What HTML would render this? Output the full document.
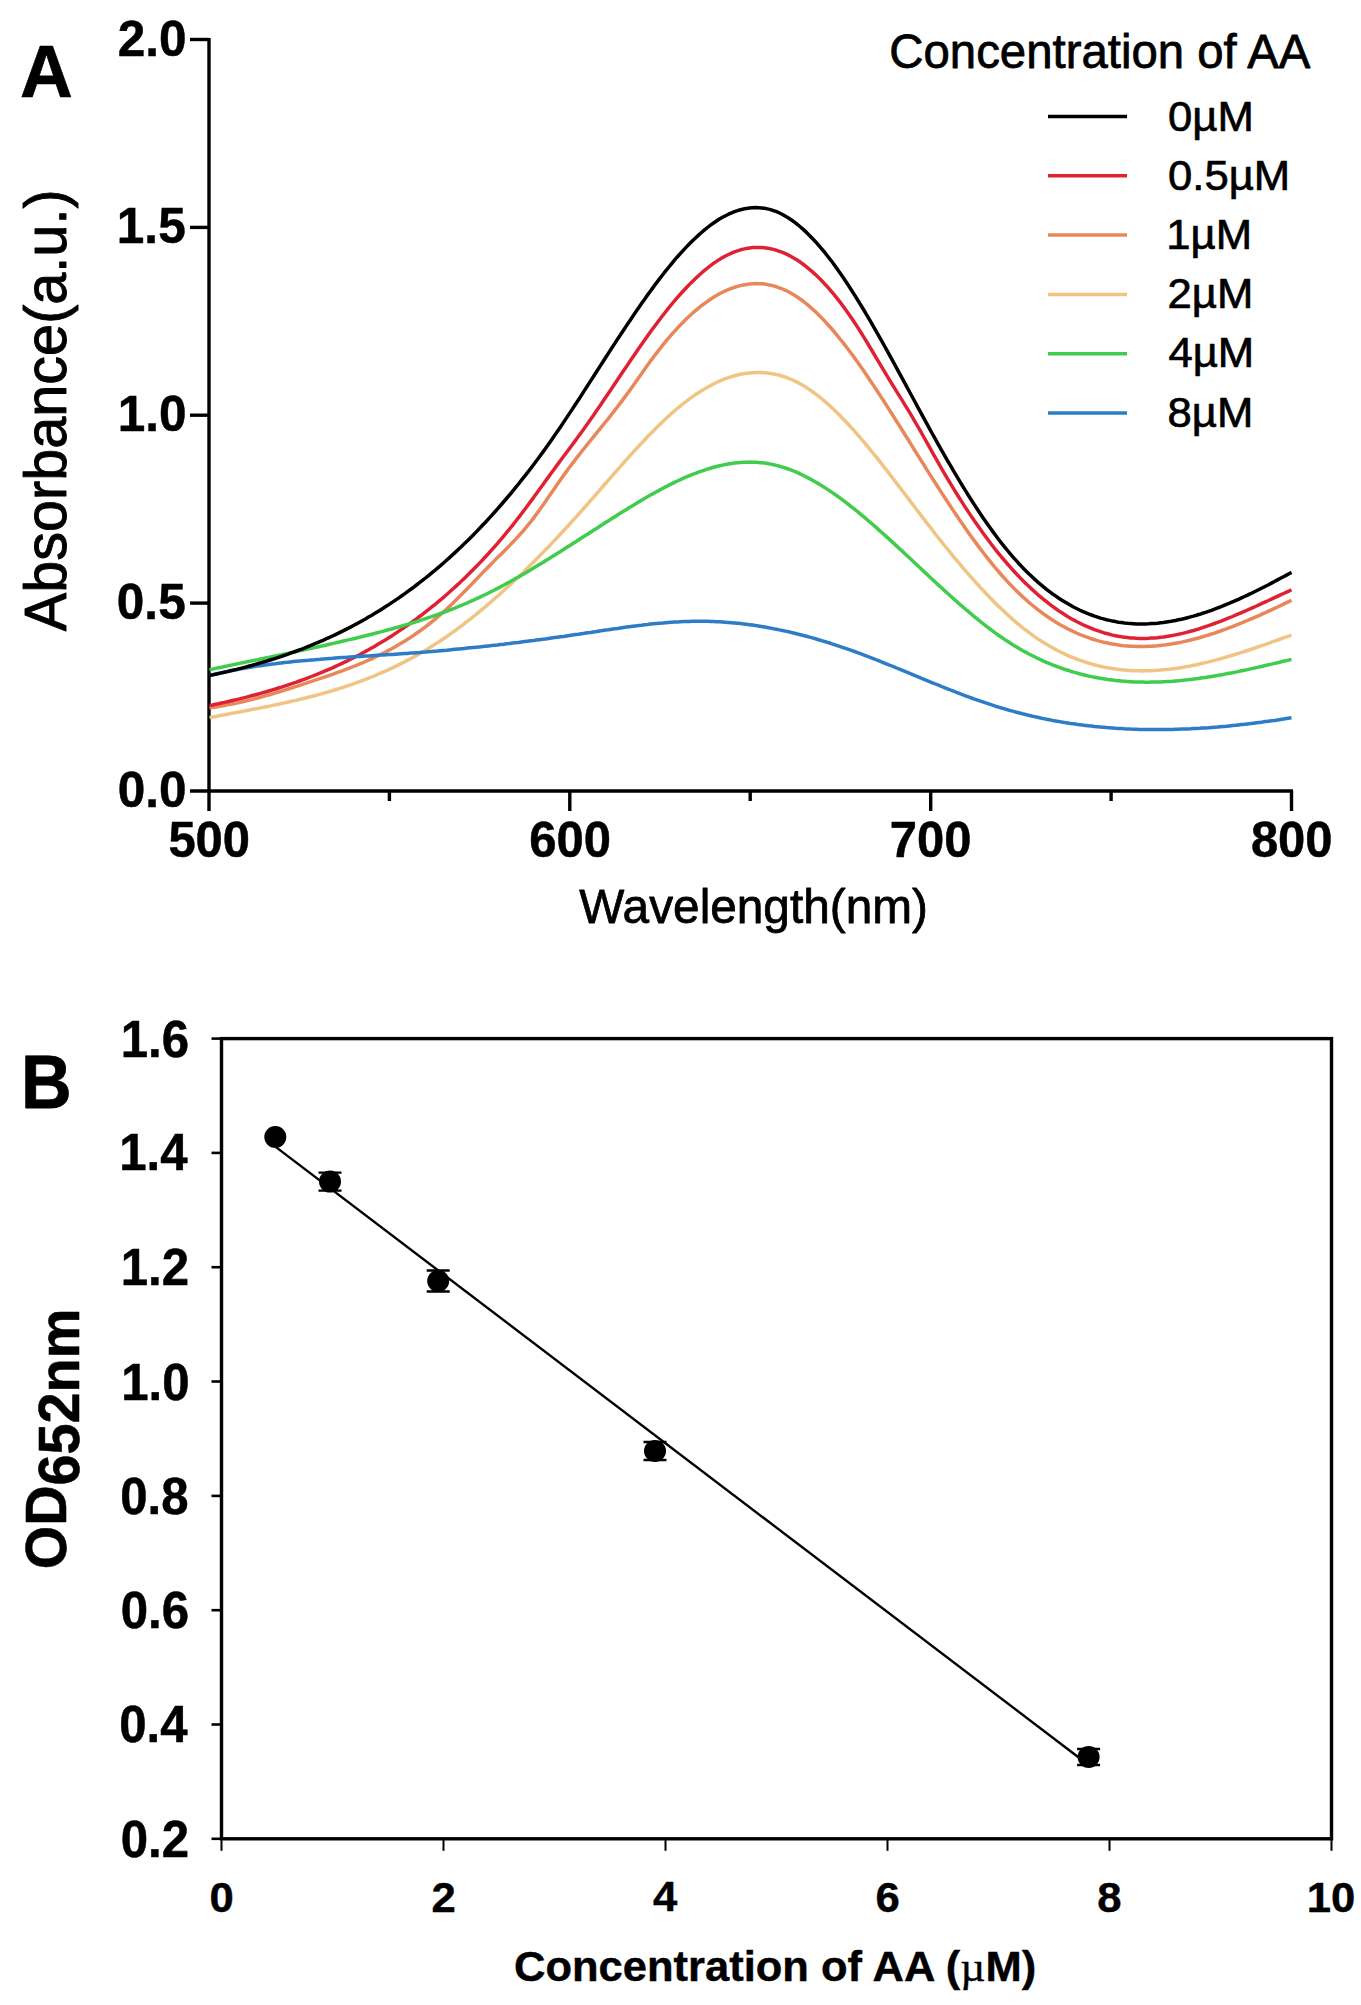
<!DOCTYPE html>
<html><head><meta charset="utf-8"><style>
html,body{margin:0;padding:0;background:#fff;}
svg{display:block;}
text{font-family:"Liberation Sans", sans-serif;fill:#000;}
.b{font-weight:bold;}
</style></head><body>
<svg width="1361" height="2005" viewBox="0 0 1361 2005">
<rect width="1361" height="2005" fill="#fff"/>

<path d="M209,38.0 V811" stroke="#000" stroke-width="3.4" fill="none"/>
<path d="M190,791 H1293.0" stroke="#000" stroke-width="3.4" fill="none"/>
<path d="M190,603.1 H209" stroke="#000" stroke-width="3.4"/>
<path d="M190,415.2 H209" stroke="#000" stroke-width="3.4"/>
<path d="M190,227.4 H209" stroke="#000" stroke-width="3.4"/>
<path d="M190,39.5 H209" stroke="#000" stroke-width="3.4"/>
<path d="M569.8,791 V811" stroke="#000" stroke-width="3.4"/>
<path d="M930.7,791 V811" stroke="#000" stroke-width="3.4"/>
<path d="M1291.5,791 V811" stroke="#000" stroke-width="3.4"/>
<path d="M389.4,791 V801" stroke="#000" stroke-width="3.4"/>
<path d="M750.2,791 V801" stroke="#000" stroke-width="3.4"/>
<path d="M1111.1,791 V801" stroke="#000" stroke-width="3.4"/>
<text transform="matrix(0.49545,0,0,0.50282,117.81,807.00)" font-size="100" style="font-family:'Liberation Sans', sans-serif;font-weight:bold;stroke:#000;stroke-width:1.0;stroke-linejoin:round" fill="#000">0.0</text>
<text transform="matrix(0.49545,0,0,0.50282,116.82,619.12)" font-size="100" style="font-family:'Liberation Sans', sans-serif;font-weight:bold;stroke:#000;stroke-width:1.0;stroke-linejoin:round" fill="#000">0.5</text>
<text transform="matrix(0.49545,0,0,0.50282,117.81,431.25)" font-size="100" style="font-family:'Liberation Sans', sans-serif;font-weight:bold;stroke:#000;stroke-width:1.0;stroke-linejoin:round" fill="#000">1.0</text>
<text transform="matrix(0.49545,0,0,0.50282,116.82,242.87)" font-size="100" style="font-family:'Liberation Sans', sans-serif;font-weight:bold;stroke:#000;stroke-width:1.0;stroke-linejoin:round" fill="#000">1.5</text>
<text transform="matrix(0.49545,0,0,0.50282,117.81,55.50)" font-size="100" style="font-family:'Liberation Sans', sans-serif;font-weight:bold;stroke:#000;stroke-width:1.0;stroke-linejoin:round" fill="#000">2.0</text>
<text transform="matrix(0.48938,0,0,0.50423,168.38,856.50)" font-size="100" style="font-family:'Liberation Sans', sans-serif;font-weight:bold;stroke:#000;stroke-width:1.0;stroke-linejoin:round" fill="#000">500</text>
<text transform="matrix(0.48938,0,0,0.50423,529.22,856.50)" font-size="100" style="font-family:'Liberation Sans', sans-serif;font-weight:bold;stroke:#000;stroke-width:1.0;stroke-linejoin:round" fill="#000">600</text>
<text transform="matrix(0.48938,0,0,0.50423,889.80,856.50)" font-size="100" style="font-family:'Liberation Sans', sans-serif;font-weight:bold;stroke:#000;stroke-width:1.0;stroke-linejoin:round" fill="#000">700</text>
<text transform="matrix(0.48938,0,0,0.50423,1250.88,856.50)" font-size="100" style="font-family:'Liberation Sans', sans-serif;font-weight:bold;stroke:#000;stroke-width:1.0;stroke-linejoin:round" fill="#000">800</text>
<text transform="matrix(0.47776,0,0,0.48646,579.30,922.50)" font-size="100" style="font-family:'Liberation Sans', sans-serif;font-weight:normal;stroke:#000;stroke-width:1.6;stroke-linejoin:round" fill="#000">Wavelength(nm)</text>
<text transform="matrix(0,-0.57612,0.58958,0,66.43,631.20)" font-size="100" style="font-family:'Liberation Sans', sans-serif;font-weight:normal;stroke:#000;stroke-width:1.6;stroke-linejoin:round">Absorbance(a.u.)</text>
<text transform="matrix(0.73088,0,0,0.73429,20.04,97.00)" font-size="100" style="font-family:'Liberation Sans', sans-serif;font-weight:bold;stroke:#000;stroke-width:1.0;stroke-linejoin:round" fill="#000">A</text>
<text transform="matrix(0.47359,0,0,0.47237,889.31,67.56)" font-size="100" style="font-family:'Liberation Sans', sans-serif;font-weight:normal;stroke:#000;stroke-width:1.6;stroke-linejoin:round" fill="#000">Concentration of AA</text>
<path d="M1048,116.5 H1127" stroke="#000000" stroke-width="3.5"/>
<text transform="matrix(0.43656,0,0,0.43118,1167.99,130.91)" font-size="100" style="font-family:'Liberation Sans', sans-serif;font-weight:normal;stroke:#000;stroke-width:1.6;stroke-linejoin:round" fill="#000">0µM</text>
<path d="M1048,175.8 H1127" stroke="#de2233" stroke-width="3.5"/>
<text transform="matrix(0.43656,0,0,0.43118,1167.99,190.03)" font-size="100" style="font-family:'Liberation Sans', sans-serif;font-weight:normal;stroke:#000;stroke-width:1.6;stroke-linejoin:round" fill="#000">0.5µM</text>
<path d="M1048,235.1 H1127" stroke="#e8875a" stroke-width="3.5"/>
<text transform="matrix(0.43656,0,0,0.43118,1166.24,248.72)" font-size="100" style="font-family:'Liberation Sans', sans-serif;font-weight:normal;stroke:#000;stroke-width:1.6;stroke-linejoin:round" fill="#000">1µM</text>
<path d="M1048,294.4 H1127" stroke="#f0c584" stroke-width="3.5"/>
<text transform="matrix(0.43656,0,0,0.43118,1167.55,308.27)" font-size="100" style="font-family:'Liberation Sans', sans-serif;font-weight:normal;stroke:#000;stroke-width:1.6;stroke-linejoin:round" fill="#000">2µM</text>
<path d="M1048,353.7 H1127" stroke="#40cc4c" stroke-width="3.5"/>
<text transform="matrix(0.43656,0,0,0.43118,1168.43,366.96)" font-size="100" style="font-family:'Liberation Sans', sans-serif;font-weight:normal;stroke:#000;stroke-width:1.6;stroke-linejoin:round" fill="#000">4µM</text>
<path d="M1048,413.0 H1127" stroke="#2d7cc8" stroke-width="3.5"/>
<text transform="matrix(0.43656,0,0,0.43118,1167.55,426.51)" font-size="100" style="font-family:'Liberation Sans', sans-serif;font-weight:normal;stroke:#000;stroke-width:1.6;stroke-linejoin:round" fill="#000">8µM</text>
<path d="M209.5,717.6 L212.5,717.1 L215.5,716.5 L218.5,715.9 L221.5,715.3 L224.5,714.8 L227.5,714.2 L230.5,713.6 L233.5,713.1 L236.5,712.5 L239.5,711.9 L242.5,711.4 L245.5,710.8 L248.5,710.2 L251.5,709.6 L254.5,709.1 L257.5,708.5 L260.5,707.9 L263.5,707.3 L266.5,706.7 L269.5,706.1 L272.5,705.4 L275.5,704.8 L278.5,704.2 L281.5,703.5 L284.5,702.9 L287.5,702.2 L290.5,701.5 L293.5,700.9 L296.5,700.2 L299.5,699.4 L302.5,698.7 L305.5,698.0 L308.5,697.2 L311.5,696.5 L314.5,695.7 L317.5,694.9 L320.5,694.1 L323.5,693.2 L326.5,692.4 L329.5,691.5 L332.5,690.6 L335.5,689.7 L338.5,688.8 L341.5,687.8 L344.5,686.8 L347.5,685.8 L350.5,684.8 L353.5,683.8 L356.5,682.7 L359.5,681.6 L362.5,680.5 L365.5,679.4 L368.5,678.2 L371.5,677.0 L374.5,675.8 L377.5,674.5 L380.5,673.2 L383.5,671.9 L386.5,670.6 L389.5,669.2 L392.5,667.8 L395.5,666.4 L398.5,664.9 L401.5,663.4 L404.5,661.9 L407.5,660.3 L410.5,658.7 L413.5,657.1 L416.5,655.4 L419.5,653.7 L422.5,652.0 L425.5,650.2 L428.5,648.4 L431.5,646.5 L434.5,644.6 L437.5,642.7 L440.5,640.7 L443.5,638.7 L446.5,636.7 L449.5,634.6 L452.5,632.4 L455.5,630.3 L458.5,628.1 L461.5,625.8 L464.5,623.5 L467.5,621.2 L470.5,618.9 L473.5,616.5 L476.5,614.1 L479.5,611.6 L482.5,609.1 L485.5,606.6 L488.5,604.0 L491.5,601.5 L494.5,598.8 L497.5,596.2 L500.5,593.5 L503.5,590.8 L506.5,588.0 L509.5,585.3 L512.5,582.5 L515.5,579.6 L518.5,576.8 L521.5,573.9 L524.5,571.0 L527.5,568.0 L530.5,565.1 L533.5,562.1 L536.5,559.0 L539.5,556.0 L542.5,552.9 L545.5,549.8 L548.5,546.7 L551.5,543.6 L554.5,540.4 L557.5,537.2 L560.5,534.0 L563.5,530.8 L566.5,527.5 L569.5,524.2 L572.5,520.9 L575.5,517.6 L578.5,514.3 L581.5,510.9 L584.5,507.5 L587.5,504.2 L590.5,500.7 L593.5,497.3 L596.5,493.9 L599.5,490.4 L602.5,487.0 L605.5,483.5 L608.5,480.1 L611.5,476.7 L614.5,473.2 L617.5,469.8 L620.5,466.4 L623.5,463.0 L626.5,459.6 L629.5,456.3 L632.5,452.9 L635.5,449.7 L638.5,446.4 L641.5,443.2 L644.5,440.0 L647.5,436.8 L650.5,433.7 L653.5,430.7 L656.5,427.7 L659.5,424.7 L662.5,421.8 L665.5,419.0 L668.5,416.2 L671.5,413.5 L674.5,410.9 L677.5,408.3 L680.5,405.9 L683.5,403.5 L686.5,401.1 L689.5,398.9 L692.5,396.7 L695.5,394.6 L698.5,392.7 L701.5,390.7 L704.5,388.9 L707.5,387.2 L710.5,385.6 L713.5,384.0 L716.5,382.5 L719.5,381.2 L722.5,379.9 L725.5,378.7 L728.5,377.7 L731.5,376.7 L734.5,375.8 L737.5,375.0 L740.5,374.3 L743.5,373.8 L746.5,373.3 L749.5,372.9 L752.5,372.7 L755.5,372.5 L758.5,372.5 L761.5,372.5 L764.5,372.7 L767.5,373.0 L770.5,373.4 L773.5,373.9 L776.5,374.6 L779.5,375.3 L782.5,376.2 L785.5,377.2 L788.5,378.3 L791.5,379.5 L794.5,380.9 L797.5,382.4 L800.5,384.0 L803.5,385.7 L806.5,387.6 L809.5,389.6 L812.5,391.7 L815.5,393.9 L818.5,396.2 L821.5,398.6 L824.5,401.1 L827.5,403.7 L830.5,406.5 L833.5,409.3 L836.5,412.2 L839.5,415.1 L842.5,418.2 L845.5,421.3 L848.5,424.5 L851.5,427.8 L854.5,431.2 L857.5,434.6 L860.5,438.0 L863.5,441.6 L866.5,445.2 L869.5,448.8 L872.5,452.5 L875.5,456.2 L878.5,459.9 L881.5,463.7 L884.5,467.6 L887.5,471.4 L890.5,475.3 L893.5,479.2 L896.5,483.1 L899.5,487.1 L902.5,491.0 L905.5,495.0 L908.5,498.9 L911.5,502.9 L914.5,506.8 L917.5,510.8 L920.5,514.7 L923.5,518.6 L926.5,522.6 L929.5,526.4 L932.5,530.3 L935.5,534.2 L938.5,538.0 L941.5,541.7 L944.5,545.5 L947.5,549.2 L950.5,552.9 L953.5,556.6 L956.5,560.2 L959.5,563.7 L962.5,567.3 L965.5,570.8 L968.5,574.2 L971.5,577.6 L974.5,581.0 L977.5,584.3 L980.5,587.6 L983.5,590.8 L986.5,594.0 L989.5,597.1 L992.5,600.2 L995.5,603.2 L998.5,606.2 L1001.5,609.1 L1004.5,611.9 L1007.5,614.7 L1010.5,617.4 L1013.5,620.1 L1016.5,622.6 L1019.5,625.1 L1022.5,627.6 L1025.5,629.9 L1028.5,632.2 L1031.5,634.4 L1034.5,636.6 L1037.5,638.6 L1040.5,640.6 L1043.5,642.5 L1046.5,644.3 L1049.5,646.1 L1052.5,647.8 L1055.5,649.5 L1058.5,651.0 L1061.5,652.5 L1064.5,653.9 L1067.5,655.3 L1070.5,656.6 L1073.5,657.9 L1076.5,659.0 L1079.5,660.2 L1082.5,661.2 L1085.5,662.2 L1088.5,663.1 L1091.5,664.0 L1094.5,664.8 L1097.5,665.6 L1100.5,666.3 L1103.5,667.0 L1106.5,667.6 L1109.5,668.1 L1112.5,668.6 L1115.5,669.0 L1118.5,669.4 L1121.5,669.8 L1124.5,670.1 L1127.5,670.3 L1130.5,670.5 L1133.5,670.7 L1136.5,670.8 L1139.5,670.8 L1142.5,670.9 L1145.5,670.8 L1148.5,670.8 L1151.5,670.7 L1154.5,670.5 L1157.5,670.3 L1160.5,670.1 L1163.5,669.8 L1166.5,669.5 L1169.5,669.2 L1172.5,668.8 L1175.5,668.4 L1178.5,668.0 L1181.5,667.5 L1184.5,667.0 L1187.5,666.4 L1190.5,665.9 L1193.5,665.3 L1196.5,664.7 L1199.5,664.0 L1202.5,663.3 L1205.5,662.6 L1208.5,661.9 L1211.5,661.1 L1214.5,660.4 L1217.5,659.6 L1220.5,658.7 L1223.5,657.9 L1226.5,657.0 L1229.5,656.1 L1232.5,655.2 L1235.5,654.3 L1238.5,653.4 L1241.5,652.4 L1244.5,651.5 L1247.5,650.5 L1250.5,649.5 L1253.5,648.5 L1256.5,647.5 L1259.5,646.4 L1262.5,645.4 L1265.5,644.4 L1268.5,643.3 L1271.5,642.2 L1274.5,641.2 L1277.5,640.1 L1280.5,639.0 L1283.5,637.9 L1286.5,636.9 L1289.5,635.8 L1291.5,635.1" stroke="#f0c584" stroke-width="3.5" fill="none" stroke-linejoin="round"/>
<path d="M209.5,707.8 L212.5,707.4 L215.5,707.0 L218.5,706.5 L221.5,706.0 L224.5,705.5 L227.5,704.9 L230.5,704.3 L233.5,703.7 L236.5,703.1 L239.5,702.5 L242.5,701.8 L245.5,701.1 L248.5,700.3 L251.5,699.6 L254.5,698.8 L257.5,698.0 L260.5,697.2 L263.5,696.4 L266.5,695.5 L269.5,694.7 L272.5,693.8 L275.5,692.9 L278.5,692.0 L281.5,691.1 L284.5,690.2 L287.5,689.2 L290.5,688.3 L293.5,687.3 L296.5,686.4 L299.5,685.4 L302.5,684.4 L305.5,683.4 L308.5,682.4 L311.5,681.4 L314.5,680.4 L317.5,679.4 L320.5,678.4 L323.5,677.4 L326.5,676.4 L329.5,675.3 L332.5,674.3 L335.5,673.2 L338.5,672.2 L341.5,671.1 L344.5,669.9 L347.5,668.8 L350.5,667.7 L353.5,666.5 L356.5,665.3 L359.5,664.0 L362.5,662.8 L365.5,661.5 L368.5,660.2 L371.5,658.8 L374.5,657.4 L377.5,656.0 L380.5,654.5 L383.5,653.0 L386.5,651.5 L389.5,649.9 L392.5,648.2 L395.5,646.6 L398.5,644.8 L401.5,643.0 L404.5,641.2 L407.5,639.3 L410.5,637.4 L413.5,635.4 L416.5,633.3 L419.5,631.2 L422.5,629.0 L425.5,626.8 L428.5,624.5 L431.5,622.1 L434.5,619.6 L437.5,617.1 L440.5,614.5 L443.5,611.9 L446.5,609.2 L449.5,606.3 L452.5,603.5 L455.5,600.6 L458.5,597.6 L461.5,594.6 L464.5,591.5 L467.5,588.5 L470.5,585.4 L473.5,582.2 L476.5,579.1 L479.5,576.0 L482.5,572.9 L485.5,569.8 L488.5,566.7 L491.5,563.7 L494.5,560.6 L497.5,557.6 L500.5,554.7 L503.5,551.7 L506.5,548.7 L509.5,545.6 L512.5,542.5 L515.5,539.4 L518.5,536.1 L521.5,532.8 L524.5,529.3 L527.5,525.7 L530.5,522.0 L533.5,518.1 L536.5,514.1 L539.5,509.9 L542.5,505.7 L545.5,501.4 L548.5,497.1 L551.5,492.7 L554.5,488.4 L557.5,484.0 L560.5,479.7 L563.5,475.5 L566.5,471.4 L569.5,467.3 L572.5,463.4 L575.5,459.4 L578.5,455.6 L581.5,451.7 L584.5,448.0 L587.5,444.2 L590.5,440.5 L593.5,436.8 L596.5,433.1 L599.5,429.4 L602.5,425.7 L605.5,422.0 L608.5,418.3 L611.5,414.5 L614.5,410.7 L617.5,406.8 L620.5,402.9 L623.5,398.9 L626.5,394.8 L629.5,390.7 L632.5,386.5 L635.5,382.2 L638.5,378.0 L641.5,373.7 L644.5,369.5 L647.5,365.3 L650.5,361.1 L653.5,357.0 L656.5,353.1 L659.5,349.2 L662.5,345.4 L665.5,341.7 L668.5,338.2 L671.5,334.7 L674.5,331.3 L677.5,328.0 L680.5,324.9 L683.5,321.8 L686.5,318.8 L689.5,316.0 L692.5,313.3 L695.5,310.6 L698.5,308.1 L701.5,305.7 L704.5,303.5 L707.5,301.3 L710.5,299.2 L713.5,297.3 L716.5,295.5 L719.5,293.8 L722.5,292.3 L725.5,290.8 L728.5,289.5 L731.5,288.4 L734.5,287.3 L737.5,286.4 L740.5,285.6 L743.5,284.9 L746.5,284.4 L749.5,284.0 L752.5,283.8 L755.5,283.6 L758.5,283.7 L761.5,283.8 L764.5,284.1 L767.5,284.6 L770.5,285.2 L773.5,285.9 L776.5,286.8 L779.5,287.8 L782.5,289.0 L785.5,290.3 L788.5,291.8 L791.5,293.5 L794.5,295.3 L797.5,297.2 L800.5,299.3 L803.5,301.5 L806.5,303.9 L809.5,306.4 L812.5,309.1 L815.5,311.8 L818.5,314.8 L821.5,317.8 L824.5,320.9 L827.5,324.2 L830.5,327.5 L833.5,331.0 L836.5,334.6 L839.5,338.3 L842.5,342.0 L845.5,345.9 L848.5,349.8 L851.5,353.8 L854.5,357.9 L857.5,362.1 L860.5,366.3 L863.5,370.6 L866.5,375.0 L869.5,379.4 L872.5,383.9 L875.5,388.4 L878.5,393.0 L881.5,397.6 L884.5,402.3 L887.5,406.9 L890.5,411.7 L893.5,416.4 L896.5,421.2 L899.5,425.9 L902.5,430.7 L905.5,435.5 L908.5,440.3 L911.5,445.2 L914.5,450.0 L917.5,454.8 L920.5,459.6 L923.5,464.3 L926.5,469.1 L929.5,473.9 L932.5,478.6 L935.5,483.3 L938.5,488.0 L941.5,492.6 L944.5,497.2 L947.5,501.8 L950.5,506.4 L953.5,510.9 L956.5,515.3 L959.5,519.8 L962.5,524.1 L965.5,528.4 L968.5,532.7 L971.5,536.9 L974.5,541.0 L977.5,545.1 L980.5,549.1 L983.5,553.0 L986.5,556.9 L989.5,560.7 L992.5,564.4 L995.5,568.0 L998.5,571.5 L1001.5,575.0 L1004.5,578.4 L1007.5,581.6 L1010.5,584.8 L1013.5,587.9 L1016.5,590.9 L1019.5,593.8 L1022.5,596.6 L1025.5,599.3 L1028.5,602.0 L1031.5,604.5 L1034.5,607.0 L1037.5,609.3 L1040.5,611.6 L1043.5,613.9 L1046.5,616.0 L1049.5,618.0 L1052.5,620.0 L1055.5,621.9 L1058.5,623.7 L1061.5,625.4 L1064.5,627.1 L1067.5,628.7 L1070.5,630.2 L1073.5,631.6 L1076.5,633.0 L1079.5,634.3 L1082.5,635.5 L1085.5,636.7 L1088.5,637.7 L1091.5,638.8 L1094.5,639.7 L1097.5,640.6 L1100.5,641.4 L1103.5,642.2 L1106.5,642.8 L1109.5,643.5 L1112.5,644.0 L1115.5,644.5 L1118.5,645.0 L1121.5,645.4 L1124.5,645.7 L1127.5,645.9 L1130.5,646.2 L1133.5,646.3 L1136.5,646.4 L1139.5,646.5 L1142.5,646.5 L1145.5,646.4 L1148.5,646.3 L1151.5,646.2 L1154.5,645.9 L1157.5,645.7 L1160.5,645.4 L1163.5,645.1 L1166.5,644.7 L1169.5,644.2 L1172.5,643.8 L1175.5,643.2 L1178.5,642.7 L1181.5,642.1 L1184.5,641.4 L1187.5,640.8 L1190.5,640.0 L1193.5,639.3 L1196.5,638.5 L1199.5,637.7 L1202.5,636.8 L1205.5,635.9 L1208.5,635.0 L1211.5,634.0 L1214.5,633.1 L1217.5,632.0 L1220.5,631.0 L1223.5,629.9 L1226.5,628.8 L1229.5,627.7 L1232.5,626.6 L1235.5,625.4 L1238.5,624.2 L1241.5,623.0 L1244.5,621.7 L1247.5,620.5 L1250.5,619.2 L1253.5,617.9 L1256.5,616.6 L1259.5,615.3 L1262.5,613.9 L1265.5,612.6 L1268.5,611.2 L1271.5,609.8 L1274.5,608.4 L1277.5,607.0 L1280.5,605.6 L1283.5,604.1 L1286.5,602.7 L1289.5,601.3 L1291.5,600.3" stroke="#e8875a" stroke-width="3.5" fill="none" stroke-linejoin="round"/>
<path d="M209.5,705.6 L212.5,705.0 L215.5,704.3 L218.5,703.7 L221.5,703.0 L224.5,702.4 L227.5,701.7 L230.5,701.0 L233.5,700.3 L236.5,699.6 L239.5,698.9 L242.5,698.1 L245.5,697.4 L248.5,696.6 L251.5,695.8 L254.5,695.0 L257.5,694.2 L260.5,693.4 L263.5,692.5 L266.5,691.7 L269.5,690.8 L272.5,689.9 L275.5,689.0 L278.5,688.0 L281.5,687.1 L284.5,686.1 L287.5,685.1 L290.5,684.1 L293.5,683.1 L296.5,682.1 L299.5,681.0 L302.5,679.9 L305.5,678.8 L308.5,677.7 L311.5,676.5 L314.5,675.3 L317.5,674.1 L320.5,672.9 L323.5,671.7 L326.5,670.4 L329.5,669.1 L332.5,667.8 L335.5,666.4 L338.5,665.0 L341.5,663.6 L344.5,662.2 L347.5,660.8 L350.5,659.3 L353.5,657.8 L356.5,656.2 L359.5,654.7 L362.5,653.1 L365.5,651.4 L368.5,649.8 L371.5,648.1 L374.5,646.4 L377.5,644.6 L380.5,642.8 L383.5,641.0 L386.5,639.2 L389.5,637.3 L392.5,635.4 L395.5,633.4 L398.5,631.4 L401.5,629.4 L404.5,627.3 L407.5,625.3 L410.5,623.1 L413.5,621.0 L416.5,618.8 L419.5,616.5 L422.5,614.3 L425.5,611.9 L428.5,609.6 L431.5,607.2 L434.5,604.8 L437.5,602.3 L440.5,599.8 L443.5,597.3 L446.5,594.7 L449.5,592.0 L452.5,589.3 L455.5,586.6 L458.5,583.9 L461.5,581.0 L464.5,578.2 L467.5,575.3 L470.5,572.3 L473.5,569.3 L476.5,566.2 L479.5,563.1 L482.5,560.0 L485.5,556.7 L488.5,553.5 L491.5,550.1 L494.5,546.8 L497.5,543.3 L500.5,539.8 L503.5,536.3 L506.5,532.7 L509.5,529.0 L512.5,525.3 L515.5,521.5 L518.5,517.6 L521.5,513.7 L524.5,509.7 L527.5,505.7 L530.5,501.6 L533.5,497.6 L536.5,493.4 L539.5,489.3 L542.5,485.2 L545.5,481.0 L548.5,476.9 L551.5,472.8 L554.5,468.7 L557.5,464.6 L560.5,460.5 L563.5,456.5 L566.5,452.5 L569.5,448.5 L572.5,444.5 L575.5,440.4 L578.5,436.3 L581.5,432.2 L584.5,428.0 L587.5,423.8 L590.5,419.5 L593.5,415.2 L596.5,410.8 L599.5,406.5 L602.5,402.0 L605.5,397.6 L608.5,393.2 L611.5,388.7 L614.5,384.2 L617.5,379.8 L620.5,375.3 L623.5,370.8 L626.5,366.4 L629.5,362.0 L632.5,357.5 L635.5,353.2 L638.5,348.8 L641.5,344.5 L644.5,340.2 L647.5,336.0 L650.5,331.8 L653.5,327.7 L656.5,323.7 L659.5,319.7 L662.5,315.8 L665.5,312.0 L668.5,308.2 L671.5,304.5 L674.5,300.9 L677.5,297.4 L680.5,294.0 L683.5,290.7 L686.5,287.5 L689.5,284.4 L692.5,281.4 L695.5,278.5 L698.5,275.7 L701.5,273.0 L704.5,270.4 L707.5,268.0 L710.5,265.6 L713.5,263.4 L716.5,261.4 L719.5,259.4 L722.5,257.6 L725.5,256.0 L728.5,254.5 L731.5,253.1 L734.5,251.8 L737.5,250.8 L740.5,249.8 L743.5,249.1 L746.5,248.4 L749.5,247.9 L752.5,247.6 L755.5,247.4 L758.5,247.4 L761.5,247.5 L764.5,247.8 L767.5,248.2 L770.5,248.7 L773.5,249.4 L776.5,250.3 L779.5,251.3 L782.5,252.4 L785.5,253.7 L788.5,255.1 L791.5,256.7 L794.5,258.5 L797.5,260.3 L800.5,262.3 L803.5,264.5 L806.5,266.8 L809.5,269.3 L812.5,271.9 L815.5,274.6 L818.5,277.5 L821.5,280.5 L824.5,283.7 L827.5,286.9 L830.5,290.4 L833.5,293.9 L836.5,297.6 L839.5,301.4 L842.5,305.4 L845.5,309.5 L848.5,313.7 L851.5,318.0 L854.5,322.5 L857.5,327.1 L860.5,331.8 L863.5,336.6 L866.5,341.5 L869.5,346.5 L872.5,351.5 L875.5,356.6 L878.5,361.6 L881.5,366.7 L884.5,371.7 L887.5,376.7 L890.5,381.6 L893.5,386.4 L896.5,391.3 L899.5,396.1 L902.5,400.9 L905.5,405.8 L908.5,410.7 L911.5,415.7 L914.5,420.8 L917.5,426.0 L920.5,431.2 L923.5,436.5 L926.5,441.8 L929.5,447.2 L932.5,452.6 L935.5,457.9 L938.5,463.2 L941.5,468.5 L944.5,473.6 L947.5,478.7 L950.5,483.7 L953.5,488.6 L956.5,493.5 L959.5,498.2 L962.5,502.9 L965.5,507.6 L968.5,512.1 L971.5,516.6 L974.5,521.0 L977.5,525.3 L980.5,529.5 L983.5,533.7 L986.5,537.8 L989.5,541.8 L992.5,545.7 L995.5,549.6 L998.5,553.3 L1001.5,557.0 L1004.5,560.5 L1007.5,564.0 L1010.5,567.4 L1013.5,570.7 L1016.5,574.0 L1019.5,577.1 L1022.5,580.2 L1025.5,583.2 L1028.5,586.1 L1031.5,588.9 L1034.5,591.6 L1037.5,594.3 L1040.5,596.8 L1043.5,599.3 L1046.5,601.7 L1049.5,604.1 L1052.5,606.3 L1055.5,608.5 L1058.5,610.6 L1061.5,612.6 L1064.5,614.5 L1067.5,616.4 L1070.5,618.2 L1073.5,619.9 L1076.5,621.5 L1079.5,623.0 L1082.5,624.5 L1085.5,625.9 L1088.5,627.2 L1091.5,628.4 L1094.5,629.6 L1097.5,630.7 L1100.5,631.7 L1103.5,632.7 L1106.5,633.5 L1109.5,634.3 L1112.5,635.1 L1115.5,635.7 L1118.5,636.3 L1121.5,636.8 L1124.5,637.2 L1127.5,637.6 L1130.5,637.9 L1133.5,638.1 L1136.5,638.3 L1139.5,638.4 L1142.5,638.4 L1145.5,638.4 L1148.5,638.3 L1151.5,638.1 L1154.5,637.9 L1157.5,637.7 L1160.5,637.3 L1163.5,637.0 L1166.5,636.5 L1169.5,636.0 L1172.5,635.5 L1175.5,634.9 L1178.5,634.3 L1181.5,633.6 L1184.5,632.9 L1187.5,632.1 L1190.5,631.3 L1193.5,630.5 L1196.5,629.6 L1199.5,628.7 L1202.5,627.7 L1205.5,626.7 L1208.5,625.7 L1211.5,624.6 L1214.5,623.5 L1217.5,622.4 L1220.5,621.3 L1223.5,620.1 L1226.5,618.9 L1229.5,617.7 L1232.5,616.5 L1235.5,615.2 L1238.5,613.9 L1241.5,612.6 L1244.5,611.3 L1247.5,610.0 L1250.5,608.7 L1253.5,607.3 L1256.5,606.0 L1259.5,604.6 L1262.5,603.2 L1265.5,601.8 L1268.5,600.5 L1271.5,599.1 L1274.5,597.7 L1277.5,596.3 L1280.5,594.9 L1283.5,593.5 L1286.5,592.1 L1289.5,590.8 L1291.5,589.8" stroke="#de2233" stroke-width="3.5" fill="none" stroke-linejoin="round"/>
<path d="M209.5,669.7 L212.5,669.1 L215.5,668.4 L218.5,667.8 L221.5,667.2 L224.5,666.5 L227.5,665.9 L230.5,665.3 L233.5,664.6 L236.5,664.0 L239.5,663.4 L242.5,662.8 L245.5,662.1 L248.5,661.5 L251.5,660.9 L254.5,660.3 L257.5,659.7 L260.5,659.0 L263.5,658.4 L266.5,657.8 L269.5,657.2 L272.5,656.5 L275.5,655.9 L278.5,655.3 L281.5,654.7 L284.5,654.0 L287.5,653.4 L290.5,652.8 L293.5,652.2 L296.5,651.5 L299.5,650.9 L302.5,650.2 L305.5,649.6 L308.5,648.9 L311.5,648.3 L314.5,647.6 L317.5,647.0 L320.5,646.3 L323.5,645.7 L326.5,645.0 L329.5,644.3 L332.5,643.6 L335.5,642.9 L338.5,642.2 L341.5,641.5 L344.5,640.8 L347.5,640.1 L350.5,639.4 L353.5,638.7 L356.5,638.0 L359.5,637.2 L362.5,636.5 L365.5,635.8 L368.5,635.0 L371.5,634.2 L374.5,633.5 L377.5,632.7 L380.5,631.9 L383.5,631.1 L386.5,630.3 L389.5,629.5 L392.5,628.7 L395.5,627.8 L398.5,627.0 L401.5,626.1 L404.5,625.2 L407.5,624.4 L410.5,623.5 L413.5,622.5 L416.5,621.6 L419.5,620.7 L422.5,619.7 L425.5,618.7 L428.5,617.7 L431.5,616.7 L434.5,615.6 L437.5,614.6 L440.5,613.5 L443.5,612.4 L446.5,611.3 L449.5,610.1 L452.5,609.0 L455.5,607.8 L458.5,606.5 L461.5,605.3 L464.5,604.0 L467.5,602.8 L470.5,601.4 L473.5,600.1 L476.5,598.7 L479.5,597.3 L482.5,595.9 L485.5,594.5 L488.5,593.0 L491.5,591.5 L494.5,590.0 L497.5,588.4 L500.5,586.9 L503.5,585.3 L506.5,583.6 L509.5,582.0 L512.5,580.3 L515.5,578.6 L518.5,576.9 L521.5,575.2 L524.5,573.5 L527.5,571.7 L530.5,569.9 L533.5,568.1 L536.5,566.3 L539.5,564.5 L542.5,562.7 L545.5,560.8 L548.5,559.0 L551.5,557.1 L554.5,555.2 L557.5,553.3 L560.5,551.4 L563.5,549.5 L566.5,547.6 L569.5,545.7 L572.5,543.8 L575.5,541.9 L578.5,540.0 L581.5,538.0 L584.5,536.1 L587.5,534.2 L590.5,532.2 L593.5,530.3 L596.5,528.4 L599.5,526.5 L602.5,524.5 L605.5,522.6 L608.5,520.7 L611.5,518.8 L614.5,516.9 L617.5,515.0 L620.5,513.1 L623.5,511.3 L626.5,509.4 L629.5,507.5 L632.5,505.7 L635.5,503.9 L638.5,502.1 L641.5,500.3 L644.5,498.5 L647.5,496.8 L650.5,495.1 L653.5,493.4 L656.5,491.7 L659.5,490.1 L662.5,488.5 L665.5,486.9 L668.5,485.4 L671.5,483.9 L674.5,482.4 L677.5,481.0 L680.5,479.6 L683.5,478.2 L686.5,476.9 L689.5,475.6 L692.5,474.4 L695.5,473.3 L698.5,472.1 L701.5,471.1 L704.5,470.1 L707.5,469.1 L710.5,468.2 L713.5,467.3 L716.5,466.5 L719.5,465.8 L722.5,465.1 L725.5,464.5 L728.5,464.0 L731.5,463.5 L734.5,463.1 L737.5,462.7 L740.5,462.5 L743.5,462.3 L746.5,462.2 L749.5,462.1 L752.5,462.2 L755.5,462.3 L758.5,462.5 L761.5,462.7 L764.5,463.1 L767.5,463.5 L770.5,464.1 L773.5,464.7 L776.5,465.4 L779.5,466.2 L782.5,467.1 L785.5,468.0 L788.5,469.1 L791.5,470.2 L794.5,471.4 L797.5,472.7 L800.5,474.1 L803.5,475.5 L806.5,477.0 L809.5,478.6 L812.5,480.2 L815.5,481.9 L818.5,483.7 L821.5,485.5 L824.5,487.4 L827.5,489.4 L830.5,491.4 L833.5,493.4 L836.5,495.5 L839.5,497.7 L842.5,499.9 L845.5,502.2 L848.5,504.5 L851.5,506.8 L854.5,509.2 L857.5,511.6 L860.5,514.1 L863.5,516.6 L866.5,519.1 L869.5,521.7 L872.5,524.3 L875.5,526.9 L878.5,529.6 L881.5,532.2 L884.5,534.9 L887.5,537.6 L890.5,540.4 L893.5,543.1 L896.5,545.9 L899.5,548.7 L902.5,551.4 L905.5,554.2 L908.5,557.0 L911.5,559.8 L914.5,562.7 L917.5,565.5 L920.5,568.3 L923.5,571.1 L926.5,573.9 L929.5,576.7 L932.5,579.5 L935.5,582.3 L938.5,585.1 L941.5,587.8 L944.5,590.6 L947.5,593.3 L950.5,596.0 L953.5,598.7 L956.5,601.4 L959.5,604.0 L962.5,606.6 L965.5,609.2 L968.5,611.7 L971.5,614.3 L974.5,616.8 L977.5,619.2 L980.5,621.6 L983.5,624.0 L986.5,626.3 L989.5,628.6 L992.5,630.9 L995.5,633.1 L998.5,635.2 L1001.5,637.3 L1004.5,639.4 L1007.5,641.3 L1010.5,643.3 L1013.5,645.2 L1016.5,647.0 L1019.5,648.8 L1022.5,650.5 L1025.5,652.1 L1028.5,653.8 L1031.5,655.3 L1034.5,656.8 L1037.5,658.3 L1040.5,659.7 L1043.5,661.1 L1046.5,662.4 L1049.5,663.6 L1052.5,664.9 L1055.5,666.0 L1058.5,667.1 L1061.5,668.2 L1064.5,669.3 L1067.5,670.2 L1070.5,671.2 L1073.5,672.1 L1076.5,672.9 L1079.5,673.8 L1082.5,674.5 L1085.5,675.3 L1088.5,676.0 L1091.5,676.6 L1094.5,677.2 L1097.5,677.8 L1100.5,678.3 L1103.5,678.8 L1106.5,679.3 L1109.5,679.7 L1112.5,680.1 L1115.5,680.5 L1118.5,680.8 L1121.5,681.1 L1124.5,681.3 L1127.5,681.5 L1130.5,681.7 L1133.5,681.9 L1136.5,682.0 L1139.5,682.1 L1142.5,682.1 L1145.5,682.2 L1148.5,682.2 L1151.5,682.1 L1154.5,682.1 L1157.5,682.0 L1160.5,681.9 L1163.5,681.7 L1166.5,681.6 L1169.5,681.4 L1172.5,681.2 L1175.5,680.9 L1178.5,680.7 L1181.5,680.4 L1184.5,680.1 L1187.5,679.8 L1190.5,679.4 L1193.5,679.1 L1196.5,678.7 L1199.5,678.3 L1202.5,677.8 L1205.5,677.4 L1208.5,676.9 L1211.5,676.4 L1214.5,675.9 L1217.5,675.4 L1220.5,674.9 L1223.5,674.4 L1226.5,673.8 L1229.5,673.2 L1232.5,672.7 L1235.5,672.1 L1238.5,671.5 L1241.5,670.8 L1244.5,670.2 L1247.5,669.6 L1250.5,668.9 L1253.5,668.3 L1256.5,667.6 L1259.5,666.9 L1262.5,666.2 L1265.5,665.5 L1268.5,664.8 L1271.5,664.1 L1274.5,663.4 L1277.5,662.7 L1280.5,662.0 L1283.5,661.3 L1286.5,660.6 L1289.5,659.9 L1291.5,659.4" stroke="#40cc4c" stroke-width="3.5" fill="none" stroke-linejoin="round"/>
<path d="M209.5,675.4 L212.5,674.7 L215.5,674.0 L218.5,673.3 L221.5,672.7 L224.5,672.0 L227.5,671.4 L230.5,670.8 L233.5,670.2 L236.5,669.7 L239.5,669.1 L242.5,668.6 L245.5,668.1 L248.5,667.6 L251.5,667.1 L254.5,666.6 L257.5,666.1 L260.5,665.7 L263.5,665.3 L266.5,664.8 L269.5,664.4 L272.5,664.0 L275.5,663.7 L278.5,663.3 L281.5,662.9 L284.5,662.6 L287.5,662.3 L290.5,661.9 L293.5,661.6 L296.5,661.3 L299.5,661.0 L302.5,660.7 L305.5,660.4 L308.5,660.2 L311.5,659.9 L314.5,659.7 L317.5,659.4 L320.5,659.2 L323.5,658.9 L326.5,658.7 L329.5,658.5 L332.5,658.3 L335.5,658.0 L338.5,657.8 L341.5,657.6 L344.5,657.4 L347.5,657.2 L350.5,657.0 L353.5,656.8 L356.5,656.6 L359.5,656.5 L362.5,656.3 L365.5,656.1 L368.5,655.9 L371.5,655.7 L374.5,655.5 L377.5,655.3 L380.5,655.1 L383.5,655.0 L386.5,654.8 L389.5,654.6 L392.5,654.4 L395.5,654.2 L398.5,654.0 L401.5,653.8 L404.5,653.6 L407.5,653.4 L410.5,653.1 L413.5,652.9 L416.5,652.7 L419.5,652.5 L422.5,652.2 L425.5,652.0 L428.5,651.7 L431.5,651.5 L434.5,651.2 L437.5,651.0 L440.5,650.7 L443.5,650.4 L446.5,650.2 L449.5,649.9 L452.5,649.6 L455.5,649.3 L458.5,649.0 L461.5,648.7 L464.5,648.4 L467.5,648.1 L470.5,647.8 L473.5,647.5 L476.5,647.2 L479.5,646.9 L482.5,646.6 L485.5,646.2 L488.5,645.9 L491.5,645.6 L494.5,645.2 L497.5,644.9 L500.5,644.5 L503.5,644.2 L506.5,643.8 L509.5,643.5 L512.5,643.1 L515.5,642.7 L518.5,642.4 L521.5,642.0 L524.5,641.6 L527.5,641.2 L530.5,640.8 L533.5,640.5 L536.5,640.1 L539.5,639.7 L542.5,639.3 L545.5,638.9 L548.5,638.4 L551.5,638.0 L554.5,637.6 L557.5,637.2 L560.5,636.8 L563.5,636.4 L566.5,635.9 L569.5,635.5 L572.5,635.1 L575.5,634.6 L578.5,634.2 L581.5,633.7 L584.5,633.3 L587.5,632.8 L590.5,632.4 L593.5,631.9 L596.5,631.5 L599.5,631.0 L602.5,630.6 L605.5,630.1 L608.5,629.7 L611.5,629.2 L614.5,628.8 L617.5,628.4 L620.5,627.9 L623.5,627.5 L626.5,627.1 L629.5,626.7 L632.5,626.3 L635.5,625.9 L638.5,625.5 L641.5,625.2 L644.5,624.8 L647.5,624.5 L650.5,624.1 L653.5,623.8 L656.5,623.5 L659.5,623.2 L662.5,623.0 L665.5,622.7 L668.5,622.5 L671.5,622.3 L674.5,622.1 L677.5,621.9 L680.5,621.7 L683.5,621.6 L686.5,621.5 L689.5,621.4 L692.5,621.3 L695.5,621.3 L698.5,621.3 L701.5,621.3 L704.5,621.3 L707.5,621.3 L710.5,621.4 L713.5,621.5 L716.5,621.7 L719.5,621.8 L722.5,622.0 L725.5,622.2 L728.5,622.4 L731.5,622.7 L734.5,623.0 L737.5,623.3 L740.5,623.6 L743.5,623.9 L746.5,624.3 L749.5,624.7 L752.5,625.1 L755.5,625.6 L758.5,626.0 L761.5,626.5 L764.5,627.0 L767.5,627.5 L770.5,628.1 L773.5,628.7 L776.5,629.2 L779.5,629.9 L782.5,630.5 L785.5,631.1 L788.5,631.8 L791.5,632.5 L794.5,633.2 L797.5,634.0 L800.5,634.7 L803.5,635.5 L806.5,636.3 L809.5,637.1 L812.5,637.9 L815.5,638.8 L818.5,639.7 L821.5,640.6 L824.5,641.5 L827.5,642.4 L830.5,643.3 L833.5,644.3 L836.5,645.3 L839.5,646.3 L842.5,647.3 L845.5,648.3 L848.5,649.4 L851.5,650.4 L854.5,651.5 L857.5,652.6 L860.5,653.7 L863.5,654.9 L866.5,656.0 L869.5,657.2 L872.5,658.3 L875.5,659.5 L878.5,660.7 L881.5,661.9 L884.5,663.1 L887.5,664.3 L890.5,665.5 L893.5,666.7 L896.5,668.0 L899.5,669.2 L902.5,670.4 L905.5,671.7 L908.5,672.9 L911.5,674.1 L914.5,675.4 L917.5,676.6 L920.5,677.9 L923.5,679.1 L926.5,680.3 L929.5,681.6 L932.5,682.8 L935.5,684.0 L938.5,685.2 L941.5,686.5 L944.5,687.7 L947.5,688.8 L950.5,690.0 L953.5,691.2 L956.5,692.4 L959.5,693.5 L962.5,694.7 L965.5,695.8 L968.5,696.9 L971.5,698.0 L974.5,699.1 L977.5,700.1 L980.5,701.2 L983.5,702.2 L986.5,703.2 L989.5,704.2 L992.5,705.2 L995.5,706.2 L998.5,707.1 L1001.5,708.0 L1004.5,708.9 L1007.5,709.8 L1010.5,710.6 L1013.5,711.4 L1016.5,712.2 L1019.5,713.0 L1022.5,713.8 L1025.5,714.5 L1028.5,715.3 L1031.5,716.0 L1034.5,716.6 L1037.5,717.3 L1040.5,718.0 L1043.5,718.6 L1046.5,719.2 L1049.5,719.8 L1052.5,720.4 L1055.5,720.9 L1058.5,721.4 L1061.5,722.0 L1064.5,722.5 L1067.5,722.9 L1070.5,723.4 L1073.5,723.8 L1076.5,724.3 L1079.5,724.7 L1082.5,725.1 L1085.5,725.4 L1088.5,725.8 L1091.5,726.1 L1094.5,726.5 L1097.5,726.8 L1100.5,727.1 L1103.5,727.3 L1106.5,727.6 L1109.5,727.8 L1112.5,728.0 L1115.5,728.3 L1118.5,728.5 L1121.5,728.6 L1124.5,728.8 L1127.5,728.9 L1130.5,729.1 L1133.5,729.2 L1136.5,729.3 L1139.5,729.4 L1142.5,729.5 L1145.5,729.5 L1148.5,729.6 L1151.5,729.6 L1154.5,729.6 L1157.5,729.6 L1160.5,729.6 L1163.5,729.6 L1166.5,729.5 L1169.5,729.5 L1172.5,729.4 L1175.5,729.3 L1178.5,729.2 L1181.5,729.1 L1184.5,729.0 L1187.5,728.9 L1190.5,728.8 L1193.5,728.6 L1196.5,728.4 L1199.5,728.3 L1202.5,728.1 L1205.5,727.9 L1208.5,727.7 L1211.5,727.4 L1214.5,727.2 L1217.5,727.0 L1220.5,726.7 L1223.5,726.4 L1226.5,726.2 L1229.5,725.9 L1232.5,725.6 L1235.5,725.3 L1238.5,724.9 L1241.5,724.6 L1244.5,724.3 L1247.5,723.9 L1250.5,723.6 L1253.5,723.2 L1256.5,722.8 L1259.5,722.4 L1262.5,722.1 L1265.5,721.6 L1268.5,721.2 L1271.5,720.8 L1274.5,720.4 L1277.5,719.9 L1280.5,719.5 L1283.5,719.1 L1286.5,718.6 L1289.5,718.1 L1291.5,717.8" stroke="#2d7cc8" stroke-width="3.5" fill="none" stroke-linejoin="round"/>
<path d="M209.5,675.5 L212.5,674.9 L215.5,674.3 L218.5,673.6 L221.5,672.9 L224.5,672.3 L227.5,671.6 L230.5,670.8 L233.5,670.1 L236.5,669.4 L239.5,668.6 L242.5,667.9 L245.5,667.1 L248.5,666.3 L251.5,665.5 L254.5,664.6 L257.5,663.8 L260.5,662.9 L263.5,662.0 L266.5,661.1 L269.5,660.2 L272.5,659.3 L275.5,658.3 L278.5,657.3 L281.5,656.3 L284.5,655.3 L287.5,654.3 L290.5,653.2 L293.5,652.1 L296.5,651.0 L299.5,649.9 L302.5,648.8 L305.5,647.6 L308.5,646.4 L311.5,645.2 L314.5,643.9 L317.5,642.7 L320.5,641.4 L323.5,640.1 L326.5,638.7 L329.5,637.4 L332.5,636.0 L335.5,634.6 L338.5,633.1 L341.5,631.6 L344.5,630.1 L347.5,628.6 L350.5,627.1 L353.5,625.5 L356.5,623.9 L359.5,622.2 L362.5,620.6 L365.5,618.9 L368.5,617.1 L371.5,615.4 L374.5,613.6 L377.5,611.8 L380.5,609.9 L383.5,608.0 L386.5,606.1 L389.5,604.1 L392.5,602.1 L395.5,600.1 L398.5,598.1 L401.5,596.0 L404.5,593.9 L407.5,591.7 L410.5,589.5 L413.5,587.3 L416.5,585.0 L419.5,582.7 L422.5,580.4 L425.5,578.0 L428.5,575.6 L431.5,573.1 L434.5,570.7 L437.5,568.1 L440.5,565.6 L443.5,563.0 L446.5,560.3 L449.5,557.6 L452.5,554.9 L455.5,552.1 L458.5,549.3 L461.5,546.5 L464.5,543.6 L467.5,540.7 L470.5,537.7 L473.5,534.7 L476.5,531.6 L479.5,528.5 L482.5,525.3 L485.5,522.2 L488.5,518.9 L491.5,515.6 L494.5,512.3 L497.5,508.9 L500.5,505.5 L503.5,502.0 L506.5,498.5 L509.5,495.0 L512.5,491.4 L515.5,487.7 L518.5,484.0 L521.5,480.2 L524.5,476.4 L527.5,472.6 L530.5,468.7 L533.5,464.7 L536.5,460.7 L539.5,456.7 L542.5,452.6 L545.5,448.4 L548.5,444.2 L551.5,439.9 L554.5,435.6 L557.5,431.3 L560.5,426.9 L563.5,422.4 L566.5,417.9 L569.5,413.4 L572.5,408.9 L575.5,404.3 L578.5,399.7 L581.5,395.1 L584.5,390.4 L587.5,385.8 L590.5,381.1 L593.5,376.5 L596.5,371.8 L599.5,367.1 L602.5,362.5 L605.5,357.8 L608.5,353.1 L611.5,348.5 L614.5,343.9 L617.5,339.3 L620.5,334.7 L623.5,330.2 L626.5,325.6 L629.5,321.2 L632.5,316.7 L635.5,312.3 L638.5,307.9 L641.5,303.6 L644.5,299.4 L647.5,295.1 L650.5,291.0 L653.5,286.9 L656.5,282.9 L659.5,278.9 L662.5,275.0 L665.5,271.2 L668.5,267.5 L671.5,263.8 L674.5,260.2 L677.5,256.7 L680.5,253.4 L683.5,250.1 L686.5,246.9 L689.5,243.8 L692.5,240.8 L695.5,237.9 L698.5,235.1 L701.5,232.5 L704.5,229.9 L707.5,227.5 L710.5,225.2 L713.5,223.0 L716.5,221.0 L719.5,219.1 L722.5,217.3 L725.5,215.7 L728.5,214.2 L731.5,212.9 L734.5,211.7 L737.5,210.6 L740.5,209.7 L743.5,209.0 L746.5,208.4 L749.5,208.0 L752.5,207.7 L755.5,207.6 L758.5,207.7 L761.5,207.9 L764.5,208.3 L767.5,208.9 L770.5,209.6 L773.5,210.6 L776.5,211.7 L779.5,213.0 L782.5,214.5 L785.5,216.2 L788.5,218.0 L791.5,220.0 L794.5,222.2 L797.5,224.5 L800.5,227.0 L803.5,229.6 L806.5,232.4 L809.5,235.4 L812.5,238.5 L815.5,241.7 L818.5,245.1 L821.5,248.6 L824.5,252.2 L827.5,256.0 L830.5,259.8 L833.5,263.8 L836.5,268.0 L839.5,272.2 L842.5,276.5 L845.5,281.0 L848.5,285.5 L851.5,290.2 L854.5,294.9 L857.5,299.7 L860.5,304.6 L863.5,309.5 L866.5,314.6 L869.5,319.7 L872.5,324.8 L875.5,330.1 L878.5,335.3 L881.5,340.7 L884.5,346.0 L887.5,351.4 L890.5,356.9 L893.5,362.3 L896.5,367.8 L899.5,373.3 L902.5,378.9 L905.5,384.4 L908.5,390.0 L911.5,395.5 L914.5,401.0 L917.5,406.6 L920.5,412.1 L923.5,417.6 L926.5,423.1 L929.5,428.6 L932.5,434.0 L935.5,439.4 L938.5,444.8 L941.5,450.1 L944.5,455.3 L947.5,460.6 L950.5,465.7 L953.5,470.8 L956.5,475.9 L959.5,480.9 L962.5,485.8 L965.5,490.7 L968.5,495.5 L971.5,500.2 L974.5,504.9 L977.5,509.5 L980.5,514.0 L983.5,518.4 L986.5,522.7 L989.5,527.0 L992.5,531.1 L995.5,535.2 L998.5,539.2 L1001.5,543.1 L1004.5,546.8 L1007.5,550.5 L1010.5,554.1 L1013.5,557.6 L1016.5,560.9 L1019.5,564.2 L1022.5,567.4 L1025.5,570.4 L1028.5,573.4 L1031.5,576.3 L1034.5,579.1 L1037.5,581.8 L1040.5,584.3 L1043.5,586.8 L1046.5,589.3 L1049.5,591.6 L1052.5,593.8 L1055.5,595.9 L1058.5,598.0 L1061.5,599.9 L1064.5,601.8 L1067.5,603.6 L1070.5,605.3 L1073.5,607.0 L1076.5,608.5 L1079.5,610.0 L1082.5,611.4 L1085.5,612.7 L1088.5,613.9 L1091.5,615.0 L1094.5,616.1 L1097.5,617.1 L1100.5,618.1 L1103.5,618.9 L1106.5,619.7 L1109.5,620.4 L1112.5,621.1 L1115.5,621.6 L1118.5,622.2 L1121.5,622.6 L1124.5,623.0 L1127.5,623.3 L1130.5,623.5 L1133.5,623.7 L1136.5,623.9 L1139.5,623.9 L1142.5,623.9 L1145.5,623.9 L1148.5,623.8 L1151.5,623.6 L1154.5,623.4 L1157.5,623.2 L1160.5,622.8 L1163.5,622.5 L1166.5,622.0 L1169.5,621.6 L1172.5,621.0 L1175.5,620.5 L1178.5,619.8 L1181.5,619.2 L1184.5,618.5 L1187.5,617.7 L1190.5,616.9 L1193.5,616.1 L1196.5,615.2 L1199.5,614.3 L1202.5,613.3 L1205.5,612.4 L1208.5,611.3 L1211.5,610.3 L1214.5,609.2 L1217.5,608.0 L1220.5,606.9 L1223.5,605.7 L1226.5,604.4 L1229.5,603.2 L1232.5,601.9 L1235.5,600.6 L1238.5,599.3 L1241.5,597.9 L1244.5,596.5 L1247.5,595.1 L1250.5,593.7 L1253.5,592.2 L1256.5,590.7 L1259.5,589.2 L1262.5,587.7 L1265.5,586.2 L1268.5,584.7 L1271.5,583.1 L1274.5,581.5 L1277.5,579.9 L1280.5,578.3 L1283.5,576.7 L1286.5,575.1 L1289.5,573.5 L1291.5,572.4" stroke="#000000" stroke-width="3.5" fill="none" stroke-linejoin="round"/>
<rect x="221.5" y="1038.6" width="1110.0" height="800.2" stroke="#000" stroke-width="3.4" fill="none"/>
<path d="M211.5,1838.8 H221.5" stroke="#000" stroke-width="2.6"/>
<path d="M211.5,1724.5 H221.5" stroke="#000" stroke-width="2.6"/>
<path d="M211.5,1610.2 H221.5" stroke="#000" stroke-width="2.6"/>
<path d="M211.5,1495.9 H221.5" stroke="#000" stroke-width="2.6"/>
<path d="M211.5,1381.5 H221.5" stroke="#000" stroke-width="2.6"/>
<path d="M211.5,1267.2 H221.5" stroke="#000" stroke-width="2.6"/>
<path d="M211.5,1152.9 H221.5" stroke="#000" stroke-width="2.6"/>
<path d="M211.5,1038.6 H221.5" stroke="#000" stroke-width="2.6"/>
<path d="M221.5,1838.8 V1850.8" stroke="#000" stroke-width="2.0"/>
<path d="M443.5,1838.8 V1850.8" stroke="#000" stroke-width="2.0"/>
<path d="M665.5,1838.8 V1850.8" stroke="#000" stroke-width="2.0"/>
<path d="M887.5,1838.8 V1850.8" stroke="#000" stroke-width="2.0"/>
<path d="M1109.5,1838.8 V1850.8" stroke="#000" stroke-width="2.0"/>
<path d="M1331.5,1838.8 V1850.8" stroke="#000" stroke-width="2.0"/>
<text transform="matrix(0.49154,0,0,0.52254,120.65,1856.78)" font-size="100" style="font-family:'Liberation Sans', sans-serif;font-weight:bold;stroke:#000;stroke-width:1.0;stroke-linejoin:round" fill="#000">0.2</text>
<text transform="matrix(0.49154,0,0,0.52254,119.18,1742.46)" font-size="100" style="font-family:'Liberation Sans', sans-serif;font-weight:bold;stroke:#000;stroke-width:1.0;stroke-linejoin:round" fill="#000">0.4</text>
<text transform="matrix(0.49154,0,0,0.52254,120.65,1628.15)" font-size="100" style="font-family:'Liberation Sans', sans-serif;font-weight:bold;stroke:#000;stroke-width:1.0;stroke-linejoin:round" fill="#000">0.6</text>
<text transform="matrix(0.49154,0,0,0.52254,120.16,1513.83)" font-size="100" style="font-family:'Liberation Sans', sans-serif;font-weight:bold;stroke:#000;stroke-width:1.0;stroke-linejoin:round" fill="#000">0.8</text>
<text transform="matrix(0.49154,0,0,0.52254,121.14,1399.52)" font-size="100" style="font-family:'Liberation Sans', sans-serif;font-weight:bold;stroke:#000;stroke-width:1.0;stroke-linejoin:round" fill="#000">1.0</text>
<text transform="matrix(0.49154,0,0,0.52254,120.65,1285.21)" font-size="100" style="font-family:'Liberation Sans', sans-serif;font-weight:bold;stroke:#000;stroke-width:1.0;stroke-linejoin:round" fill="#000">1.2</text>
<text transform="matrix(0.49154,0,0,0.52254,119.18,1170.37)" font-size="100" style="font-family:'Liberation Sans', sans-serif;font-weight:bold;stroke:#000;stroke-width:1.0;stroke-linejoin:round" fill="#000">1.4</text>
<text transform="matrix(0.49154,0,0,0.52254,120.65,1056.58)" font-size="100" style="font-family:'Liberation Sans', sans-serif;font-weight:bold;stroke:#000;stroke-width:1.0;stroke-linejoin:round" fill="#000">1.6</text>
<text transform="matrix(0.43663,0,0,0.42958,209.49,1911.87)" font-size="100" style="font-family:'Liberation Sans', sans-serif;font-weight:bold;stroke:#000;stroke-width:1.0;stroke-linejoin:round" fill="#000">0</text>
<text transform="matrix(0.43663,0,0,0.42958,431.49,1911.87)" font-size="100" style="font-family:'Liberation Sans', sans-serif;font-weight:bold;stroke:#000;stroke-width:1.0;stroke-linejoin:round" fill="#000">2</text>
<text transform="matrix(0.43663,0,0,0.42958,653.06,1911.44)" font-size="100" style="font-family:'Liberation Sans', sans-serif;font-weight:bold;stroke:#000;stroke-width:1.0;stroke-linejoin:round" fill="#000">4</text>
<text transform="matrix(0.43663,0,0,0.42958,875.49,1911.87)" font-size="100" style="font-family:'Liberation Sans', sans-serif;font-weight:bold;stroke:#000;stroke-width:1.0;stroke-linejoin:round" fill="#000">6</text>
<text transform="matrix(0.43663,0,0,0.42958,1097.27,1911.87)" font-size="100" style="font-family:'Liberation Sans', sans-serif;font-weight:bold;stroke:#000;stroke-width:1.0;stroke-linejoin:round" fill="#000">8</text>
<text transform="matrix(0.43663,0,0,0.42958,1306.83,1911.87)" font-size="100" style="font-family:'Liberation Sans', sans-serif;font-weight:bold;stroke:#000;stroke-width:1.0;stroke-linejoin:round" fill="#000">10</text>
<text transform="matrix(0.43515,0,0,0.42979,514.06,1981.07)" font-size="100" style="font-family:'Liberation Sans', sans-serif;font-weight:bold;stroke:#000;stroke-width:1.0;stroke-linejoin:round" fill="#000">Concentration of AA (<tspan style="font-weight:normal;font-family:'Liberation Serif',serif">µ</tspan>M)</text>
<text transform="matrix(0,-0.55799,0.58065,0,65.95,1569.23)" font-size="100" style="font-family:'Liberation Sans', sans-serif;font-weight:bold;stroke:#000;stroke-width:1.0;stroke-linejoin:round">OD<tspan dy="22">652nm</tspan></text>
<text transform="matrix(0.70161,0,0,0.75362,21.09,1107.60)" font-size="100" style="font-family:'Liberation Sans', sans-serif;font-weight:bold;stroke:#000;stroke-width:1.0;stroke-linejoin:round" fill="#000">B</text>
<path d="M275.3,1146.6 L1085,1762.2" stroke="#000" stroke-width="2.4"/>
<circle cx="275.3" cy="1137" r="11" fill="#000"/>
<path d="M318.5,1172.6 H341.5 M330,1172.6 V1190.6 M318.5,1190.6 H341.5" stroke="#000" stroke-width="2.4"/>
<circle cx="330" cy="1181.6" r="11" fill="#000"/>
<path d="M426.7,1270.5 H449.7 M438.2,1270.5 V1291.5 M426.7,1291.5 H449.7" stroke="#000" stroke-width="2.4"/>
<circle cx="438.2" cy="1281" r="11" fill="#000"/>
<path d="M643.5,1442.0 H666.5 M655,1442.0 V1460.0 M643.5,1460.0 H666.5" stroke="#000" stroke-width="2.4"/>
<circle cx="655" cy="1451" r="11" fill="#000"/>
<path d="M1077.1,1749.0 H1100.1 M1088.6,1749.0 V1765.0 M1077.1,1765.0 H1100.1" stroke="#000" stroke-width="2.4"/>
<circle cx="1088.6" cy="1757" r="11" fill="#000"/>
</svg></body></html>
